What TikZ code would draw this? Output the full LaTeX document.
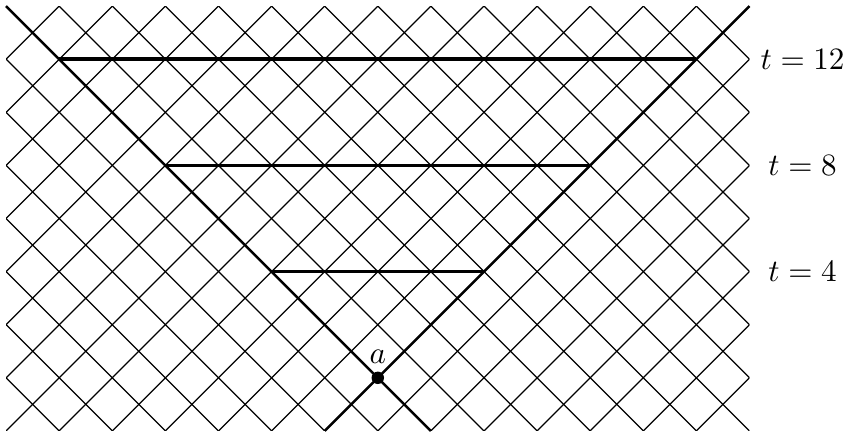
\documentclass[tikz,border=0pt]{standalone}
\usepackage{amsmath, amssymb}
\usepackage{tikz}
\usetikzlibrary{positioning}

\begin{document}
\begin{tikzpicture}[x=0.3cm, y=0.3cm,
    gridline/.style={line width=0.4pt},
    cone/.style={line width=0.8pt},
    slice/.style={line width=1.2pt},
    event/.style={circle, fill, inner sep=0pt, minimum size=4pt}]
        \useasboundingbox (-14.23,-2.15) rectangle (17.71,14.23);
        % Lattice
        \begin{scope}
          \clip (-14,-2) rectangle (14,14);
          \foreach \c in {-28,-26,...,16}
            \draw[gridline] (\c-2,-2) -- (\c+14,14);
          \foreach \c in {-16,-14,...,28}
            \draw[gridline] (\c+2,-2) -- (\c-14,14);
        \end{scope}
        % Light cone
        \coordinate (ctl) at (-14,14);
        \coordinate (ctr) at (14,14);
        \coordinate (cbl) at (-2,-2);
        \coordinate (cbr) at (2,-2);
        \draw[cone] (ctl) -- (cbr);
        \draw[cone] (ctr) -- (cbl);
        % Time slices
        \foreach \t in {4,8,12} {
          \coordinate (sl\t) at (-\t,\t);
          \coordinate (sr\t) at (\t,\t);
          \draw[slice] (sl\t) -- (sr\t);
          \node (lab\t) at (16,\t) {$t=\t$};
        }
        % Event
        \node[event] (a) at (0,0) {};
        \node[above=-1.2pt of a] (alab) {$a$};
      \end{tikzpicture}
\end{document}
